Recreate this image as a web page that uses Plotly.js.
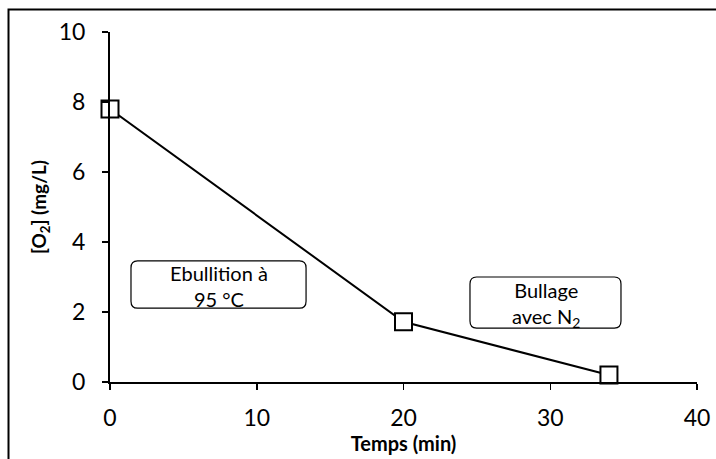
<!DOCTYPE html>
<html>
<head>
<meta charset="utf-8">
<script src="https://cdn.plot.ly/plotly-3.0.1.min.js"></script>
<style>html,body{margin:0;padding:0;background:#fff;}#chart{width:716px;height:459px;}</style>
</head>
<body>
<div id="chart"></div>
<script>
// Data
const timeMin = [0, 20, 34];
const oxygen = [7.8, 1.72, 0.2];
const xTicks = [0, 10, 20, 30, 40];
const yTicks = [0, 2, 4, 6, 8, 10];
const labelBoil = "Ebullition à<br>95 °C";
const labelN2 = "Bullage<br>avec N<sub>2</sub>";
const xTitle = "<b>Temps (min)</b>";
const yTitle = "<b>[O<sub>2</sub>] (mg/L)</b>";

function roundRect(x0, x1, y0, y1, rx, ry) {
  return `M ${x0+rx} ${y1} L ${x1-rx} ${y1} Q ${x1} ${y1} ${x1} ${y1-ry} L ${x1} ${y0+ry} Q ${x1} ${y0} ${x1-rx} ${y0} L ${x0+rx} ${y0} Q ${x0} ${y0} ${x0} ${y0+ry} L ${x0} ${y1-ry} Q ${x0} ${y1} ${x0+rx} ${y1} Z`;
}

const font = "Lato, 'Open Sans', sans-serif";
const trace = {
  x: timeMin, y: oxygen, type: 'scatter', mode: 'lines+markers',
  line: {color: '#000', width: 2},
  marker: {symbol: 'square', size: 17, color: '#fff', line: {color: '#000', width: 2}},
  cliponaxis: false, showlegend: false
};

const layout = {
  width: 716, height: 459,
  margin: {l: 110, r: 19, t: 32, b: 77},
  paper_bgcolor: '#fff', plot_bgcolor: '#fff',
  font: {family: font, color: '#000', size: 23},
  xaxis: {
    range: [0, 40], tickvals: xTicks, ticks: 'outside', ticklen: 6, tickwidth: 1.5, tickcolor: '#000',
    showline: true, linecolor: '#000', linewidth: 2, showgrid: false, zeroline: false,
    ticklabelstandoff: 8, tickfont: {size: 23},
    title: {text: xTitle, font: {size: 20}, standoff: 6}
  },
  yaxis: {
    range: [0, 10], tickvals: yTicks, ticks: 'outside', ticklen: 6, tickwidth: 1.5, tickcolor: '#000',
    showline: true, linecolor: '#000', linewidth: 2, showgrid: false, zeroline: false,
    ticklabelstandoff: 12, tickfont: {size: 23},
    title: {text: yTitle, font: {size: 19}, standoff: 7}
  },
  shapes: [
    {type: 'rect', xref: 'paper', yref: 'paper', x0: -0.1729, x1: 1.05, y0: -0.25, y1: 1.0643,
     line: {color: '#000', width: 2}, layer: 'below'},
    {type: 'path', xref: 'x', yref: 'y', path: roundRect(1.43, 13.36, 2.11, 3.46, 0.45, 0.2),
     line: {color: '#000', width: 1.2}, fillcolor: '#fff', layer: 'below'},
    {type: 'path', xref: 'x', yref: 'y', path: roundRect(24.53, 34.82, 1.54, 3.0, 0.45, 0.2),
     line: {color: '#000', width: 1.2}, fillcolor: '#fff', layer: 'below'}
  ],
  annotations: [
    {x: 7.4, y: 2.74, xref: 'x', yref: 'y', text: labelBoil, showarrow: false,
     font: {size: 20, family: font}, align: 'center'},
    {x: 29.68, y: 2.22, xref: 'x', yref: 'y', text: labelN2, showarrow: false,
     font: {size: 20, family: font}, align: 'center'}
  ]
};

Plotly.newPlot('chart', [trace], layout, {displayModeBar: false, staticPlot: true});
</script>
</body>
</html>
